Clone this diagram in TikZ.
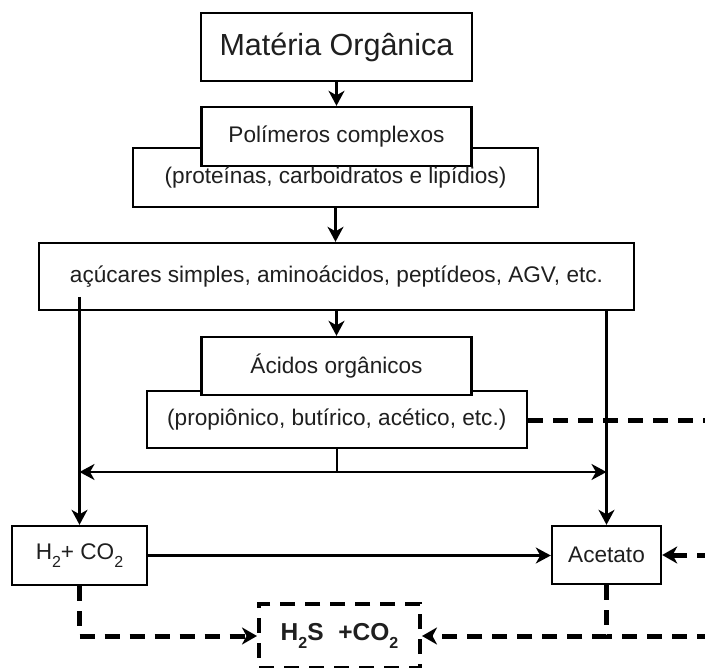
\documentclass[tikz,border=0pt]{standalone}
\usepackage{fontspec}
\setmainfont{Liberation Sans}
\usetikzlibrary{arrows.meta}
% lowered subscript digit in the text font
\newcommand{\subsc}[1]{\raisebox{-0.32em}{\fontsize{16}{16}\selectfont #1}}
\begin{document}
\begin{tikzpicture}[x=1pt,y=-1pt,
  box/.style={draw=black, line width=2.4pt, fill=white, inner sep=0pt,
    align=center, text=black!88, font=\fontsize{22.6}{26}\selectfont},
  txt/.style={inner sep=0pt, align=center, text=black!88,
    font=\fontsize{22.6}{26}\selectfont},
  arr/.style={line width=2.2pt, -{Stealth[length=15pt,width=16pt,inset=4.5pt]}},
  sline/.style={line width=2.2pt},
  dline/.style={line width=5pt, dash pattern=on 15pt off 10pt},
  darr/.style={dline, -{Stealth[length=15pt,width=17pt,inset=4.5pt]}},
  dbox/.style={draw=black, line width=4pt, dash pattern=on 15pt off 10pt,
    fill=white, inner sep=0pt, text=black!88,
    font=\fontsize{24.5}{28}\selectfont\bfseries}
]
\useasboundingbox (0,0) rectangle (705,668);
\fill[white] (0,0) rectangle (705,668);

% upper chain
\node[box, minimum width=271pt, minimum height=68pt, font=\fontsize{30.5}{34}\selectfont]
  (b1) at (336.5,47) {Matéria Orgânica};
\node[box, minimum width=405pt, minimum height=59pt] (b3) at (335.5,177.5) {};
\node[box, minimum width=270pt, minimum height=59pt] (b2) at (336.5,136.5) {Polímeros complexos};
\node[txt] (b3t) at (b3.center) {(proteínas, carboidratos e lipídios)};
\node[box, minimum width=595pt, minimum height=67pt] (b4) at (336.5,276.5)
  {açúcares simples, aminoácidos, peptídeos, AGV, etc.};
\node[box, minimum width=380pt, minimum height=57pt] (b6) at (336.8,419.5)
  {(propiônico, butírico, acético, etc.)};
\node[box, minimum width=270pt, minimum height=58pt] (b5) at (336.5,366) {Ácidos orgânicos};

% lower row
\node[box, minimum width=135pt, minimum height=59pt] (h2) at (79.5,555.5)
  {H\subsc{2}+ CO\subsc{2}};
\node[box, minimum width=109pt, minimum height=58pt] (acet) at (606.5,555) {Acetato};
\node[dbox, minimum width=161pt, minimum height=64pt] (h2s) at (339.5,636)
  {H\subsc{2}S\hspace{0.6em}+CO\subsc{2}};

% junction points
\coordinate (s1) at (79.5,297);
\coordinate (j) at (336.8,472);
\coordinate (eTop) at (712,421);
\coordinate (eMid) at (712,555);
\coordinate (eBot) at (712,636);

% solid connectors
\draw[arr] (b1) -- (b2);
\draw[arr] (b3.south) -- (b3.south |- b4.north);
\draw[arr] (b4.south -| b5.north) -- (b5.north);
\draw[arr] (s1) -- (h2.north);
\draw[arr] (b4.south -| acet.north) -- (acet.north);
\draw[sline] (b6.south -| j) -- (j);
\draw[arr] (j) -- (j -| h2.north);
\draw[arr] (j) -- (j -| acet.north);
\draw[arr] (h2.east) -- (h2.east -| acet.west);

% dashed connectors
\draw[dline] (b6.east |- eTop) -- (eTop);
\draw[darr] (eMid) -- (acet.east);
\draw[dline] (eBot) -- (acet.south |- eBot);
\draw[darr] (acet.south) |- (h2s.east);
\draw[darr] (h2.south) |- (h2s.west);
\end{tikzpicture}
\end{document}
